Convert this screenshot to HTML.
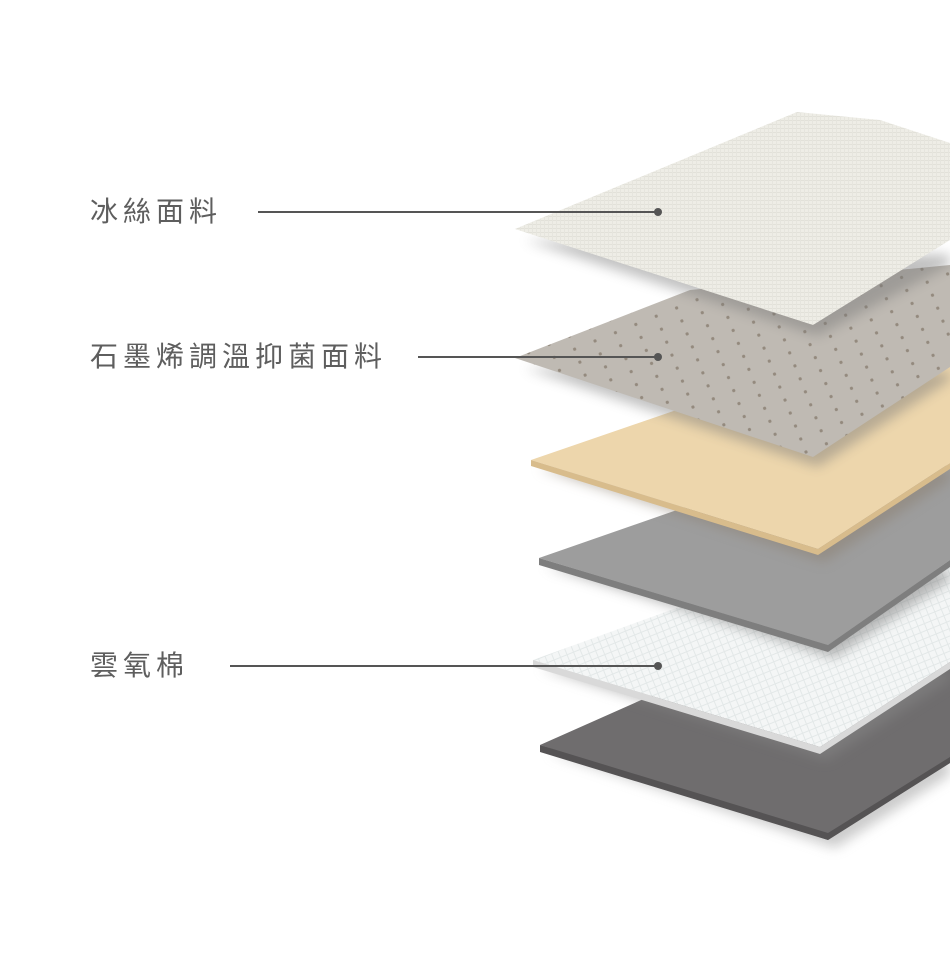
<!DOCTYPE html>
<html><head><meta charset="utf-8"><style>
html,body{margin:0;padding:0;background:#fff;}
body{width:950px;height:958px;overflow:hidden;position:relative;}
.lbl{position:absolute;left:90px;font-family:"Liberation Sans","Noto Sans CJK TC",sans-serif;font-size:28px;color:#5e5e5e;letter-spacing:5px;line-height:1;}
</style></head><body>
<svg width="950" height="958" style="position:absolute;left:0;top:0">
<defs>
<filter id="sh" x="-20%" y="-20%" width="140%" height="160%"><feGaussianBlur stdDeviation="6"/></filter>
<pattern id="weave" width="4" height="4" patternUnits="userSpaceOnUse"><rect width="4" height="4" fill="#eeede6"/><rect width="4" height="1" fill="#e2e1d9"/><rect width="1" height="4" fill="#e6e5de"/></pattern>
<pattern id="dots" width="22" height="14" patternUnits="userSpaceOnUse" patternTransform="rotate(-22)"><rect width="22" height="14" fill="#bfbab3"/><circle cx="6" cy="7" r="1.6" fill="#948a7e"/></pattern>
<pattern id="grid" width="7" height="7" patternUnits="userSpaceOnUse" patternTransform="rotate(-22)"><rect width="7" height="7" fill="#f4f6f6"/><rect width="7" height="1" fill="#e3e8e8"/><rect width="1" height="7" fill="#e3e8e8"/></pattern>
</defs>
<polygon points="548,752 835,848 950,775 950,760" fill="#999" opacity="0.5" filter="url(#sh)"/>
<polygon points="540,745 720,665 950,640 950,763 828,840" fill="#6f6d6e"/>
<polygon points="540,745 828,833 950,757 950,763 828,840 540,752" fill="#555354"/>
<polygon points="540,668 826,760 950,680 950,670" fill="#888" opacity="0.5" filter="url(#sh)"/>
<polygon points="533,660 740,585 950,555 950,662 820,747" fill="url(#grid)"/>
<polygon points="533,660 820,747 950,662 950,669 820,754 533,667" fill="#d9d9d9"/>
<polygon points="545,566 834,658 950,580 950,570" fill="#777" opacity="0.5" filter="url(#sh)"/>
<polygon points="539,558 720,495 950,465 950,560 828,645" fill="#9d9d9d"/>
<polygon points="539,558 828,645 950,560 950,567 828,652 539,565" fill="#7e7e7e"/>
<polygon points="538,468 824,562 950,480 950,470" fill="#8b7f70" opacity="0.5" filter="url(#sh)"/>
<polygon points="531,460 720,395 950,360 950,463 818,549" fill="#edd6ac"/>
<polygon points="531,460 818,549 950,463 950,469 818,555 531,466" fill="#d8bc8c"/>
<polygon points="525,368 818,467 950,380 950,372" fill="#777" opacity="0.45" filter="url(#sh)"/>
<polygon points="515,358 690,290 950,265 950,367 813,457" fill="url(#dots)"/>
<polygon points="525,240 818,336 950,265 950,255" fill="#777" opacity="0.45" filter="url(#sh)"/>
<polygon points="515,229 797,112 880,120 950,143 950,240 813,325" fill="url(#weave)"/>
<g stroke="#555" stroke-width="2"><line x1="258" y1="212" x2="658" y2="212"/><line x1="418" y1="357" x2="658" y2="357"/><line x1="230" y1="666" x2="658" y2="666"/></g>
<g fill="#555"><circle cx="658" cy="212" r="4"/><circle cx="658" cy="357" r="4"/><circle cx="658" cy="666" r="4"/></g>
</svg>
<div class="lbl" style="top:198px">冰絲面料</div>
<div class="lbl" style="top:343px">石墨烯調溫抑菌面料</div>
<div class="lbl" style="top:652px">雲氧棉</div>
</body></html>
